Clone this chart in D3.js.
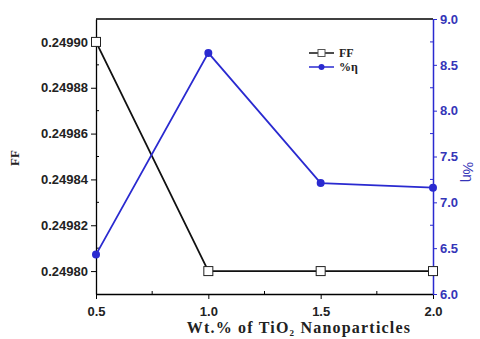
<!DOCTYPE html>
<html><head><meta charset="utf-8">
<script src="https://cdn.jsdelivr.net/npm/d3@7"></script>
<style>body{margin:0;background:#fff}</style>
</head><body>
<svg id="c" width="480" height="339"></svg>
<script>
const wt = [0.5, 1.0, 1.5, 2.0];
const ff = [0.24990, 0.24980, 0.24980, 0.24980];
const eta = [6.43, 8.63, 7.21, 7.16];
const xTicks = [0.5, 1.0, 1.5, 2.0];
const ffTicks = [0.24980, 0.24982, 0.24984, 0.24986, 0.24988, 0.24990];
const etaTicks = [6.0, 6.5, 7.0, 7.5, 8.0, 8.5, 9.0];

const svg = d3.select("#c");
const L = 96, R = 433, T = 19, B = 294;
const blue = "#2a2ad0";
const x = d3.scaleLinear().domain([0.5, 2.0]).range([L, R]);
const yL = d3.scaleLinear().domain([0.24979, 0.24991]).range([B, T]);
const yR = d3.scaleLinear().domain([6, 9]).range([B, T]);
const tickFont = "Arial, Liberation Sans, sans-serif";

// top border
svg.append("line").attr("x1", L).attr("x2", R).attr("y1", T).attr("y2", T).attr("stroke", "#000").attr("stroke-width", 1.3);

// bottom axis
const gx = svg.append("g").attr("transform", `translate(0,${B})`)
  .call(d3.axisBottom(x).tickValues(xTicks).tickFormat(d3.format(".1f")).tickSize(5).tickSizeOuter(0));
gx.select(".domain").attr("stroke-width", 1.3);
gx.selectAll("text").attr("font-family", tickFont).attr("font-weight", "bold").attr("font-size", 13).attr("fill", "#222").attr("dy", "1.05em");
svg.append("g").selectAll("line").data([0.75, 1.25, 1.75]).join("line")
  .attr("x1", d => x(d)).attr("x2", d => x(d)).attr("y1", B).attr("y2", B - 3).attr("stroke", "#000");

// left axis
const gl = svg.append("g").attr("transform", `translate(${L},0)`)
  .call(d3.axisLeft(yL).tickValues(ffTicks).tickFormat(d3.format(".5f")).tickSize(5).tickSizeOuter(0));
gl.select(".domain").attr("stroke-width", 1.3);
gl.selectAll("text").attr("font-family", tickFont).attr("font-weight", "bold").attr("font-size", 13).attr("fill", "#222");
svg.append("g").selectAll("line").data([0.24981, 0.24983, 0.24985, 0.24987, 0.24989]).join("line")
  .attr("x1", L).attr("x2", L + 3).attr("y1", d => yL(d)).attr("y2", d => yL(d)).attr("stroke", "#000");

// right axis
const gr = svg.append("g").attr("transform", `translate(${R},0)`)
  .call(d3.axisRight(yR).tickValues(etaTicks).tickFormat(d3.format(".1f")).tickSize(4).tickSizeOuter(0));
gr.select(".domain").attr("stroke", blue).attr("stroke-width", 1.5);
gr.selectAll(".tick line").attr("stroke", blue);
gr.selectAll("text").attr("font-family", tickFont).attr("font-weight", "bold").attr("font-size", 13).attr("fill", "#3535b8");
svg.append("g").selectAll("line").data([6.25, 6.75, 7.25, 7.75, 8.25, 8.75]).join("line")
  .attr("x1", R).attr("x2", R - 3).attr("y1", d => yR(d)).attr("y2", d => yR(d)).attr("stroke", blue);

// axis titles
svg.append("text").attr("x", 299).attr("y", 333).attr("text-anchor", "middle")
  .attr("font-family", "Liberation Serif, Times New Roman, serif").attr("font-weight", "bold").attr("font-size", 16).attr("letter-spacing", 1.2).attr("fill", "#222")
  .html('Wt.% of TiO<tspan font-size="9" dy="3">2</tspan><tspan dy="-3"> Nanoparticles</tspan>');
svg.append("text").attr("transform", "translate(19,158) rotate(-90)").attr("text-anchor", "middle")
  .attr("font-family", "Liberation Serif, Times New Roman, serif").attr("font-weight", "bold").attr("font-size", 13).attr("fill", "#222").text("FF");
svg.append("text").attr("transform", "translate(463,172) rotate(90)").attr("text-anchor", "middle")
  .attr("font-family", "Arial, Liberation Sans, sans-serif").attr("font-size", 14).attr("fill", "#3535b8").text("%η");

// FF series
const lineFF = d3.line().x((d, i) => x(wt[i])).y(d => yL(d));
svg.append("path").datum(ff).attr("d", lineFF).attr("fill", "none").attr("stroke", "#111").attr("stroke-width", 1.8);
svg.append("g").selectAll("rect").data(ff).join("rect")
  .attr("x", (d, i) => x(wt[i]) - 4.5).attr("y", d => yL(d) - 4.5).attr("width", 9).attr("height", 9)
  .attr("fill", "#fff").attr("stroke", "#222").attr("stroke-width", 1);

// eta series
const lineE = d3.line().x((d, i) => x(wt[i])).y(d => yR(d));
svg.append("path").datum(eta).attr("d", lineE).attr("fill", "none").attr("stroke", blue).attr("stroke-width", 1.8);
svg.append("g").selectAll("circle").data(eta).join("circle")
  .attr("cx", (d, i) => x(wt[i])).attr("cy", d => yR(d)).attr("r", 4).attr("fill", blue);

// legend
const lg = svg.append("g");
lg.append("line").attr("x1", 309).attr("x2", 334).attr("y1", 53).attr("y2", 53).attr("stroke", "#111").attr("stroke-width", 1.5);
lg.append("rect").attr("x", 318).attr("y", 49.5).attr("width", 7).attr("height", 7).attr("fill", "#fff").attr("stroke", "#555");
lg.append("text").attr("x", 339).attr("y", 57).attr("font-family", "Liberation Serif, Times New Roman, serif").attr("font-weight", "bold").attr("font-size", 12).attr("fill", "#222").text("FF");
lg.append("line").attr("x1", 309).attr("x2", 334).attr("y1", 67).attr("y2", 67).attr("stroke", blue).attr("stroke-width", 1.5);
lg.append("circle").attr("cx", 321.5).attr("cy", 67).attr("r", 3).attr("fill", blue);
lg.append("text").attr("x", 339).attr("y", 71).attr("font-family", "Liberation Serif, Times New Roman, serif").attr("font-weight", "bold").attr("font-size", 12).attr("fill", "#222").text("%η");
</script>
</body></html>
